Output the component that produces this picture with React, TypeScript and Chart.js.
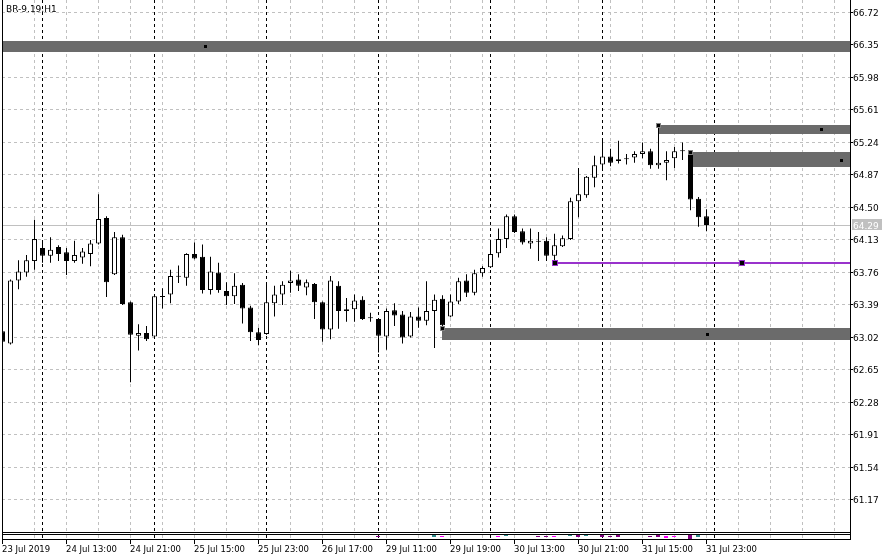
import React, { useEffect, useRef } from 'react';
import { Chart, registerables } from 'chart.js';

Chart.register(...registerables);

// ---- Candle data (BR-9.19, H1) ----
const opens = [
  63.08, 62.94, 63.66, 63.75, 63.88, 64.03, 63.94, 64.04, 63.98, 63.88,
  63.92, 63.96, 64.08, 64.37, 63.73, 64.15, 63.41, 63.03, 63.06, 63.02,
  63.47, 63.50, 63.70, 63.69, 63.96, 63.93, 63.55, 63.75, 63.54, 63.48,
  63.61, 63.35, 63.07, 63.05, 63.40, 63.50, 63.63, 63.67, 63.58, 63.62,
  63.41, 63.10, 63.60, 63.31, 63.33, 63.44, 63.23, 63.22, 63.02, 63.32,
  63.27, 63.02, 63.25, 63.20, 63.31, 63.45, 63.25, 63.42, 63.66, 63.52,
  63.74, 63.81, 63.97, 64.13, 64.39, 64.22, 64.08, 64.10, 64.11, 63.94,
  64.05, 64.13, 64.56, 64.63, 64.83, 64.98, 65.07, 65.02, 65.04, 65.06,
  65.10, 65.13, 64.97, 65.00, 65.05, 65.13, 65.10, 64.59, 64.39,
];
const highs = [
  63.12, 63.67, 63.89, 63.95, 64.35, 64.09, 64.15, 64.06, 64.03, 64.11,
  64.03, 64.12, 64.64, 64.39, 64.21, 64.18, 63.42, 63.16, 63.14, 63.49,
  63.57, 63.78, 63.83, 63.97, 64.09, 64.07, 63.93, 63.86, 63.64, 63.74,
  63.63, 63.37, 63.12, 63.61, 63.60, 63.65, 63.77, 63.73, 63.67, 63.63,
  63.42, 63.71, 63.65, 63.46, 63.50, 63.48, 63.29, 63.23, 63.34, 63.40,
  63.31, 63.30, 63.35, 63.65, 63.50, 63.49, 63.50, 63.69, 63.73, 63.78,
  63.82, 64.09, 64.25, 64.41, 64.41, 64.25, 64.25, 64.21, 64.15, 64.19,
  64.17, 64.60, 64.94, 64.85, 65.08, 65.27, 65.16, 65.25, 65.10, 65.13,
  65.23, 65.16, 65.42, 65.13, 65.18, 65.23, 65.12, 64.61, 64.47,
];
const lows = [
  62.94, 62.93, 63.56, 63.70, 63.78, 63.86, 63.86, 63.88, 63.72, 63.86,
  63.85, 63.82, 64.07, 63.47, 63.72, 63.38, 62.50, 62.86, 62.97, 63.01,
  63.34, 63.40, 63.63, 63.60, 63.90, 63.51, 63.50, 63.52, 63.38, 63.39,
  63.17, 62.97, 62.92, 63.04, 63.25, 63.38, 63.52, 63.54, 63.49, 63.22,
  62.96, 62.99, 63.11, 63.19, 63.19, 63.21, 63.19, 62.84, 62.87, 63.14,
  62.94, 63.01, 63.12, 63.15, 62.89, 63.12, 63.24, 63.39, 63.47, 63.49,
  63.70, 63.80, 63.92, 64.03, 64.20, 64.07, 64.02, 63.88, 63.88, 63.86,
  64.04, 64.12, 64.38, 64.60, 64.72, 64.92, 64.96, 64.99, 64.98, 65.00,
  65.05, 64.93, 64.93, 64.80, 64.94, 65.03, 64.46, 64.27, 64.22,
];
const closes = [
  62.96, 63.66, 63.76, 63.89, 64.13, 63.94, 64.01, 63.96, 63.88, 63.95,
  63.99, 64.08, 64.36, 63.64, 64.15, 63.39, 63.04, 63.06, 62.99, 63.48,
  63.48, 63.71, 63.70, 63.96, 63.91, 63.55, 63.76, 63.55, 63.48, 63.60,
  63.34, 63.07, 62.98, 63.41, 63.50, 63.61, 63.66, 63.60, 63.64, 63.41,
  63.10, 63.66, 63.31, 63.33, 63.43, 63.22, 63.23, 63.03, 63.31, 63.26,
  63.01, 63.25, 63.20, 63.31, 63.44, 63.15, 63.42, 63.65, 63.52, 63.74,
  63.80, 63.96, 64.13, 64.39, 64.21, 64.09, 64.11, 64.10, 63.94, 64.06,
  64.14, 64.56, 64.64, 64.84, 64.97, 65.07, 65.00, 65.04, 65.05, 65.10,
  65.13, 64.97, 65.00, 65.03, 65.13, 65.13, 64.58, 64.38, 64.29,
];

// ---- Axes ----
const timeLabelIdx = [0, 8, 16, 24, 32, 40, 48, 56, 64, 72, 80, 88];
const timeLabels = [
  '23 Jul 2019', '24 Jul 13:00', '24 Jul 21:00', '25 Jul 15:00', '25 Jul 23:00', '26 Jul 17:00',
  '29 Jul 11:00', '29 Jul 19:00', '30 Jul 13:00', '30 Jul 21:00', '31 Jul 15:00', '31 Jul 23:00',
];
const priceTicks = [
  66.72, 66.35, 65.98, 65.61, 65.24, 64.87, 64.5, 64.13, 63.76, 63.39, 63.02, 62.65, 62.28, 61.91, 61.54, 61.17,
];
const daySeparatorIdx = [5, 19, 33, 47, 61, 75, 89];
const gridIdxStep = 4;
const xMin = -0.0625;
const xMax = 105.9375;
const yMin = 60.7942;
const yMax = 66.8533;

// ---- Objects ----
const zoneStartIdx = [-2, 82, 86, 55];
const zoneTop = [66.39, 65.43, 65.12, 63.12];
const zoneBottom = [66.26, 65.33, 64.95, 62.98];
const zoneDotIdx = [25.4, 102.4, 104.9, 88.1];
const levelPrice = 63.86;
const levelStartIdx = 69;
const levelMarkerIdx = [69, 92.4];
const currentPrice = 64.29;
const symbolLabel = 'BR-9.19,H1';

// ---- Sub-window indicator ----
const subIdx = [47, 54, 55, 62, 63, 67, 68, 69, 71, 72, 73, 75, 76, 77, 81, 82, 83, 84, 86, 87];
const subLow = [3, 3, 3, 3, 4, 3, 3, 3, 4, 3, 4, 3, 3, 3, 3, 3, 2, 3, 1, 3];
const subHigh = [4, 5, 4, 4, 5, 4, 4, 4, 5, 5, 5, 5, 4, 5, 4, 5, 4, 4, 5, 5];
const subColors = [
  '#800080', '#2E8B8B', '#FF00FF', '#FF00FF', '#2E8B8B', '#800080', '#800080', '#FF00FF', '#2E8B8B', '#800080',
  '#2E8B8B', '#800080', '#800080', '#800080', '#800080', '#800080', '#FF00FF', '#FF00FF', '#800080', '#2E8B8B',
];

const FONT = '9px "DejaVu Sans"';
const XFONT = '8.5px "DejaVu Sans"';

const mtPlugin = {
  id: 'mtPlugin',
  beforeDatasetsDraw(chart: any) {
    const { ctx, chartArea: a, scales } = chart;
    const xs = scales.x;
    const ys = scales.y;
    const col = (i: number) => Math.floor(xs.getPixelForValue(i));
    const row = (p: number) => Math.round(ys.getPixelForValue(p));
    ctx.save();
    ctx.beginPath();
    ctx.rect(a.left, a.top, a.right - a.left, a.bottom - a.top);
    ctx.clip();
    ctx.lineWidth = 1;
    // horizontal grid
    ctx.strokeStyle = '#C0C0C0';
    ctx.setLineDash([3, 3]);
    ctx.beginPath();
    for (const v of priceTicks) {
      const r = row(v) + 0.5;
      ctx.moveTo(a.left, r);
      ctx.lineTo(a.right, r);
    }
    ctx.stroke();
    // vertical grid
    ctx.beginPath();
    for (let i = gridIdxStep; i <= xMax; i += gridIdxStep) {
      const c = col(i) + 0.5;
      ctx.moveTo(c, a.top);
      ctx.lineTo(c, a.bottom);
    }
    ctx.stroke();
    // day separators
    ctx.strokeStyle = '#000000';
    ctx.beginPath();
    for (const i of daySeparatorIdx) {
      const c = col(i) + 0.5;
      ctx.moveTo(c, a.top);
      ctx.lineTo(c, a.bottom);
    }
    ctx.stroke();
    ctx.setLineDash([]);
    // current price line
    ctx.strokeStyle = '#C0C0C0';
    ctx.beginPath();
    const cr = row(currentPrice) + 0.5;
    ctx.moveTo(a.left, cr);
    ctx.lineTo(a.right, cr);
    ctx.stroke();
    // zones
    ctx.fillStyle = '#6B6B6B';
    zoneStartIdx.forEach((s, k) => {
      const x0 = s < 0 ? a.left : col(s);
      const y0 = row(zoneTop[k]);
      const y1 = row(zoneBottom[k]);
      ctx.fillRect(x0, y0, a.right - x0, y1 - y0);
    });
    ctx.restore();
  },
  afterDatasetsDraw(chart: any) {
    const { ctx, chartArea: a, scales } = chart;
    const xs = scales.x;
    const ys = scales.y;
    const col = (i: number) => Math.floor(xs.getPixelForValue(i));
    const row = (p: number) => Math.round(ys.getPixelForValue(p));
    ctx.save();
    ctx.beginPath();
    ctx.rect(a.left, a.top, a.right - a.left, a.bottom - a.top);
    ctx.clip();
    // purple level line
    const lr = row(levelPrice);
    const lx = col(levelStartIdx);
    ctx.fillStyle = '#9932CC';
    ctx.fillRect(lx, lr - 1, a.right - lx, 2);
    for (const m of levelMarkerIdx) {
      const c = col(m);
      ctx.fillStyle = '#9932CC';
      ctx.fillRect(c - 2, lr - 3, 6, 6);
      ctx.fillStyle = '#000000';
      ctx.fillRect(c - 1, lr - 2, 4, 4);
    }
    // zone corner markers and centre dots
    zoneStartIdx.forEach((s, k) => {
      if (s >= 0) {
        const c = col(s);
        const r = row(zoneTop[k]);
        ctx.fillStyle = '#808080';
        ctx.fillRect(c - 2, r - 2, 5, 5);
        ctx.fillStyle = '#000000';
        ctx.fillRect(c - 1, r - 1, 3, 3);
      }
      const dc = col(zoneDotIdx[k]);
      const dr = row((zoneTop[k] + zoneBottom[k]) / 2);
      ctx.fillStyle = '#000000';
      ctx.fillRect(dc - 1, dr - 1, 3, 3);
    });
    ctx.restore();
  },
  afterDraw(chart: any) {
    const { ctx, chartArea: a, scales } = chart;
    const xs = scales.x;
    const ys = scales.y;
    const col = (i: number) => Math.floor(xs.getPixelForValue(i));
    const row = (p: number) => Math.round(ys.getPixelForValue(p));
    const L = Math.round(a.left);
    const R = Math.round(a.right);
    const B = Math.round(a.bottom);
    const subTop = B + 2;
    const subBot = B + 7;
    ctx.save();
    // sub-window grid
    ctx.lineWidth = 1;
    ctx.setLineDash([3, 3]);
    ctx.strokeStyle = '#C0C0C0';
    ctx.beginPath();
    for (let i = gridIdxStep; i <= xMax; i += gridIdxStep) {
      const c = col(i) + 0.5;
      ctx.moveTo(c, subTop + 1);
      ctx.lineTo(c, subBot);
    }
    ctx.stroke();
    ctx.strokeStyle = '#000000';
    ctx.beginPath();
    for (const i of daySeparatorIdx) {
      const c = col(i) + 0.5;
      ctx.moveTo(c, subTop + 1);
      ctx.lineTo(c, subBot);
    }
    ctx.stroke();
    ctx.setLineDash([]);
    // sub-window marks
    subIdx.forEach((i, k) => {
      const c = col(i);
      ctx.fillStyle = subColors[k];
      const y0 = subBot + 1 - subHigh[k];
      const y1 = subBot + 1 - subLow[k];
      ctx.fillRect(c - 2, y0, 4, y1 - y0);
    });
    // frame
    ctx.fillStyle = '#000000';
    ctx.fillRect(L, 0, 1, subBot + 5);
    ctx.fillRect(R, 0, 1, subBot + 1);
    ctx.fillRect(L, B, R - L + 1, 1);
    ctx.fillRect(L, subTop, R - L + 1, 1);
    ctx.fillRect(L, subBot, R - L + 1, 1);
    // price axis
    ctx.font = FONT;
    ctx.textBaseline = 'alphabetic';
    ctx.textAlign = 'left';
    priceTicks.forEach((v) => {
      const r = row(v);
      ctx.fillStyle = '#000000';
      ctx.fillRect(R + 1, r, 2, 1);
      ctx.fillText(v.toFixed(2), R + 3, r + 4);
    });
    // current price tag
    const pr = row(currentPrice);
    ctx.fillStyle = '#C0C0C0';
    ctx.fillRect(R + 2, pr - 6, 30, 11);
    ctx.fillStyle = '#FFFFFF';
    ctx.fillText(currentPrice.toFixed(2), R + 3, pr + 4);
    // time axis
    ctx.fillStyle = '#000000';
    ctx.font = XFONT;
    timeLabelIdx.forEach((i, k) => {
      const c = Math.max(col(i), L);
      ctx.fillRect(c, subBot, 1, 5);
      ctx.fillText(timeLabels[k], Math.max(c, 1), subBot + 13);
    });
    // symbol label
    ctx.font = FONT;
    ctx.fillText(symbolLabel, L + 4, 12);
    ctx.restore();
  },
};

export default function App() {
  const ref = useRef<HTMLCanvasElement>(null);
  useEffect(() => {
    document.body.style.margin = '0';
    const bodyColors = opens.map((o, i) => (closes[i] >= o ? '#FFFFFF' : '#000000'));
    const chart = new Chart(ref.current as HTMLCanvasElement, {
      type: 'bar',
      data: {
        datasets: [
          {
            label: 'body',
            data: opens.map((o, i) => ({ x: i, y: [o, closes[i]] })) as any,
            backgroundColor: bodyColors,
            borderColor: '#000000',
            borderWidth: 1,
            borderSkipped: false,
            barThickness: 5,
            minBarLength: 1,
            grouped: false,
            inflateAmount: 0,
            clip: 0,
            order: 0,
          } as any,
          {
            label: 'wick',
            data: lows.map((l, i) => ({ x: i, y: [l, highs[i]] })) as any,
            backgroundColor: '#000000',
            borderWidth: 0,
            barThickness: 1,
            grouped: false,
            inflateAmount: 0,
            clip: 0,
            order: 1,
          } as any,
        ],
      },
      options: {
        animation: false,
        responsive: false,
        maintainAspectRatio: false,
        devicePixelRatio: 1,
        layout: { padding: { left: 2, right: 43, top: 0, bottom: 28 } },
        plugins: {
          legend: { display: false },
          tooltip: { enabled: false },
        },
        scales: {
          x: { type: 'linear', min: xMin, max: xMax, display: false, offset: false },
          y: { type: 'linear', min: yMin, max: yMax, display: false },
        },
      } as any,
      plugins: [mtPlugin],
    });
    return () => chart.destroy();
  }, []);
  return (
    <div style={{ width: 893, height: 560, background: '#FFFFFF' }}>
      <canvas ref={ref} width={893} height={560} style={{ display: 'block' }} />
    </div>
  );
}
